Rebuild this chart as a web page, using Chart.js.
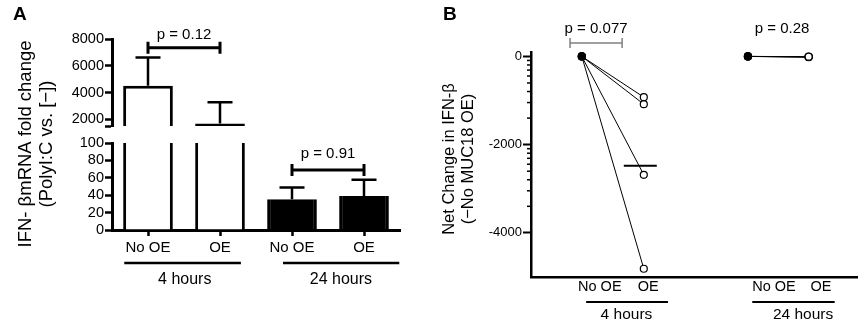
<!DOCTYPE html>
<html>
<head>
<meta charset="utf-8">
<script src="https://cdn.jsdelivr.net/npm/chart.js@4"></script>
<style>
    html, body { margin: 0; padding: 0; background: #fff; }
    #wrap { position: relative; width: 868px; height: 323px; }
    canvas { position: absolute; top: 0; }
</style>
</head>
<body>
<div id="wrap">
    <canvas id="fold-low" width="420" height="323" style="left:0"></canvas>
    <canvas id="fold-high" width="420" height="140" style="left:0"></canvas>
    <canvas id="net-change" width="448" height="323" style="left:420px"></canvas>
</div>
<script>
const FONT = "Arial, 'Liberation Sans', Helvetica, sans-serif";

// Panel A - IFN-b fold change (mean + SEM)
const foldLabels = ['No OE', 'OE', 'No OE', 'OE'];
const foldMean = [4500, 1680, 35.4, 39.2];
const foldSem = [2120, 1600, 13.4, 18.5];
const foldFill = ['#fff', '#fff', '#000', '#000'];
const upperTicks = [1500, 2000, 4000, 6000, 8000];
const lowerTicks = [0, 20, 40, 60, 80, 100];
const pTextA = ['p = 0.12', 'p = 0.91'];
const pPairsA = [[0, 1], [2, 3]];
const pLevelA = [7350, 69];
const groupNames = ['4 hours', '24 hours'];

// Panel B - net change per experiment
const netNoOE4h = [0, 0, 0, 0];
const netOE4h = [-924, -1083, -2684, -4813];
const netNoOE24h = [0, 0, 0, 0];
const netOE24h = [-5, -12, -18, -8];
const netMeanOE4h = -2480;
const netTicks = [0, -2000, -4000];
const pTextB = ['p = 0.077', 'p = 0.28'];

// layout helpers (pixel/category placement, not data)
const pGapA = [9, 12];
const groupSpanA = [[-0.33, 1.29], [1.875, 3.49]];
const groupTextA = [0.51, 2.68];
const netX = [1, 2, 3.68, 4.66];
const netLabelX = [1.29, 2.07, 4.10, 4.86];
const groupSpanB = [[1.07, 2.39], [3.75, 5.08]];
const groupTextB = [1.72, 4.57];

function text(ctx, s, x, y, size, align = 'center', base = 'middle', weight = '') {
    ctx.font = `${weight} ${size}px ${FONT}`.trim();
    ctx.textAlign = align;
    ctx.textBaseline = base;
    ctx.fillStyle = '#000';
    ctx.fillText(s, x, y);
}

const foldExtras = {
    id: 'foldExtras',
    afterDatasetsDraw(chart) {
        const { ctx, scales: { x, y } } = chart;
        ctx.save();
        ctx.strokeStyle = '#000';
        ctx.lineWidth = 2.5;
        foldMean.forEach((m, i) => {
            if (m < y.min || m > y.max) return;
            const cx = x.getPixelForValue(i);
            const top = y.getPixelForValue(m);
            const end = y.getPixelForValue(m + foldSem[i]);
            ctx.beginPath();
            ctx.moveTo(cx, top); ctx.lineTo(cx, end);
            ctx.moveTo(cx - 12.5, end); ctx.lineTo(cx + 12.5, end);
            ctx.stroke();
        });
        pPairsA.forEach(([a, b], k) => {
            const lv = pLevelA[k];
            if (lv < y.min || lv > y.max) return;
            const x0 = x.getPixelForValue(a), x1 = x.getPixelForValue(b), py = y.getPixelForValue(lv);
            ctx.lineWidth = 3;
            ctx.beginPath();
            ctx.moveTo(x0, py - 6); ctx.lineTo(x0, py + 6);
            ctx.moveTo(x0, py); ctx.lineTo(x1, py);
            ctx.moveTo(x1, py - 6); ctx.lineTo(x1, py + 6);
            ctx.stroke();
            text(ctx, pTextA[k], (x0 + x1) / 2, py - pGapA[k], 15, 'center', 'alphabetic');
        });
        ctx.restore();
    },
    afterDraw(chart) {
        if (chart.canvas.id !== 'fold-low') return;
        const { ctx, scales: { x } } = chart;
        ctx.save();
        text(ctx, 'A', 13, 20, 19, 'left', 'alphabetic', 'bold');

        ctx.save();
        ctx.translate(26, 144);
        ctx.rotate(-Math.PI / 2);
        text(ctx, 'IFN- \u03b2mRNA fold change', 0, 0, 18.5);
        ctx.restore();
        ctx.save();
        ctx.translate(47, 144);
        ctx.rotate(-Math.PI / 2);
        text(ctx, '(PolyI:C vs. [\u2212])', 0, 0, 18.5);
        ctx.restore();

        ctx.strokeStyle = '#000';
        ctx.lineWidth = 2.5;
        groupSpanA.forEach(([a, b], k) => {
            ctx.beginPath();
            ctx.moveTo(x.getPixelForValue(a), 263);
            ctx.lineTo(x.getPixelForValue(b), 263);
            ctx.stroke();
            text(ctx, groupNames[k], x.getPixelForValue(groupTextA[k]), 280, 16);
        });
        ctx.restore();
    }
};

function foldChart(id, lo, hi, ticks, padTop, padBottom, border, showX) {
    return new Chart(document.getElementById(id), {
        type: 'bar',
        data: {
            labels: foldLabels,
            datasets: [{
                data: foldMean,
                backgroundColor: foldFill,
                borderColor: '#000',
                borderWidth: border,
                borderSkipped: false,
                barPercentage: 0.69,
                categoryPercentage: 1,
                clip: 0
            }]
        },
        options: {
            responsive: false,
            animation: false,
            devicePixelRatio: 1,
            layout: { padding: { top: padTop, right: 20, bottom: padBottom, left: 0 } },
            plugins: { legend: { display: false }, tooltip: { enabled: false } },
            scales: {
                x: {
                    display: showX,
                    grid: { drawOnChartArea: false, offset: false, tickLength: 6, tickWidth: 2.5, tickColor: '#000' },
                    border: { color: '#000', width: 3 },
                    ticks: { color: '#000', font: { family: FONT, size: 15 }, padding: 3 },
                    afterFit: s => { s.height = showX ? 93 : 0; }
                },
                y: {
                    min: lo,
                    max: hi,
                    afterBuildTicks: s => { s.ticks = ticks.map(v => ({ value: v })); },
                    grid: { drawOnChartArea: false, tickLength: 7, tickWidth: 2.5, tickColor: '#000' },
                    border: { color: '#000', width: 3 },
                    ticks: {
                        color: '#000',
                        font: { family: FONT, size: 14.5 },
                        padding: 1,
                        autoSkip: false,
                        callback: v => (v === 1500 ? '' : String(v))
                    },
                    afterFit: s => { s.width = 112; }
                }
            }
        },
        plugins: [foldExtras]
    });
}

foldChart('fold-low', 0, 100, lowerTicks, 143, 0, { left: 3, right: 3, top: 0, bottom: 0 }, true);
foldChart('fold-high', 1500, 8000, upperTicks, 39, 14, { left: 3, right: 3, top: 3, bottom: 0 }, false);

// Panel B
const netExtras = {
    id: 'netExtras',
    afterDraw(chart) {
        const { ctx, chartArea, scales: { x, y } } = chart;
        ctx.save();
        ctx.strokeStyle = '#000';

        // minor ticks on the y axis
        ctx.lineWidth = 1.5;
        [0, -2000].forEach(major => {
            for (let k = 1; k <= 8; k++) {
                const py = y.getPixelForValue(major - 2000 * (1 - Math.log10(10 - k)));
                ctx.beginPath();
                ctx.moveTo(chartArea.left - 4, py);
                ctx.lineTo(chartArea.left, py);
                ctx.stroke();
            }
        });

        // mean line for OE at 4 hours
        const mx = x.getPixelForValue(netX[1]);
        const my = y.getPixelForValue(netMeanOE4h);
        ctx.lineWidth = 2;
        ctx.beginPath();
        ctx.moveTo(mx - 20, my);
        ctx.lineTo(mx + 13, my);
        ctx.stroke();

        // p-value bracket and texts
        const by = chartArea.top - 9;
        ctx.strokeStyle = '#808080';
        ctx.lineWidth = 1.5;
        const bx0 = x.getPixelForValue(0.81), bx1 = x.getPixelForValue(1.65);
        ctx.beginPath();
        ctx.moveTo(bx0, by - 5); ctx.lineTo(bx0, by + 5);
        ctx.moveTo(bx0, by); ctx.lineTo(bx1, by);
        ctx.moveTo(bx1, by - 5); ctx.lineTo(bx1, by + 5);
        ctx.stroke();
        text(ctx, pTextB[0], x.getPixelForValue(1.23), 33, 15, 'center', 'alphabetic');
        text(ctx, pTextB[1], x.getPixelForValue(4.23), 33, 15, 'center', 'alphabetic');

        text(ctx, 'B', 23, 20, 19, 'left', 'alphabetic', 'bold');

        ctx.save();
        ctx.translate(29, 159);
        ctx.rotate(-Math.PI / 2);
        text(ctx, 'Net Change in IFN-\u03b2', 0, 0, 16.5);
        ctx.restore();
        ctx.save();
        ctx.translate(48, 159);
        ctx.rotate(-Math.PI / 2);
        text(ctx, '(\u2212No MUC18 OE)', 0, 0, 16.5);
        ctx.restore();

        // category labels and time groups
        ['No OE', 'OE', 'No OE', 'OE'].forEach((s, i) => {
            text(ctx, s, x.getPixelForValue(netLabelX[i]), 287, 14.5);
        });
        ctx.strokeStyle = '#000';
        ctx.lineWidth = 2;
        groupSpanB.forEach(([a, b], k) => {
            ctx.beginPath();
            ctx.moveTo(x.getPixelForValue(a), 302);
            ctx.lineTo(x.getPixelForValue(b), 302);
            ctx.stroke();
            text(ctx, groupNames[k], x.getPixelForValue(groupTextB[k]), 315, 15.5);
        });
        ctx.restore();
    }
};

const pairStyle = {
    showLine: true,
    borderColor: '#000',
    borderWidth: 1,
    pointRadius: 3.5,
    pointBorderWidth: 1.2,
    pointBorderColor: '#000',
    pointBackgroundColor: ['#000', '#fff']
};

const netDatasets = [
    ...netOE4h.map((v, i) => ({ ...pairStyle, data: [{ x: netX[0], y: netNoOE4h[i] }, { x: netX[1], y: v }] })),
    ...netOE24h.map((v, i) => ({ ...pairStyle, data: [{ x: netX[2], y: netNoOE24h[i] }, { x: netX[3], y: v }] }))
];

new Chart(document.getElementById('net-change'), {
    type: 'scatter',
    data: { datasets: netDatasets },
    options: {
        responsive: false,
        animation: false,
        devicePixelRatio: 1,
        layout: { padding: { top: 52, right: 11, bottom: 0, left: 0 } },
        plugins: { legend: { display: false }, tooltip: { enabled: false } },
        scales: {
            x: {
                type: 'linear',
                min: 0.18,
                max: 5.44,
                grid: { drawOnChartArea: false, drawTicks: false },
                border: { color: '#000', width: 2.5 },
                ticks: { display: false },
                afterFit: s => { s.height = 46; }
            },
            y: {
                min: -5000,
                max: 100,
                afterBuildTicks: s => { s.ticks = netTicks.map(v => ({ value: v })); },
                grid: { drawOnChartArea: false, tickLength: 8, tickWidth: 2, tickColor: '#000' },
                border: { color: '#000', width: 2.5 },
                ticks: { color: '#000', font: { family: FONT, size: 13 }, padding: 1, callback: v => String(v) },
                afterFit: s => { s.width = 111; }
            }
        }
    },
    plugins: [netExtras]
});
</script>
</body>
</html>
